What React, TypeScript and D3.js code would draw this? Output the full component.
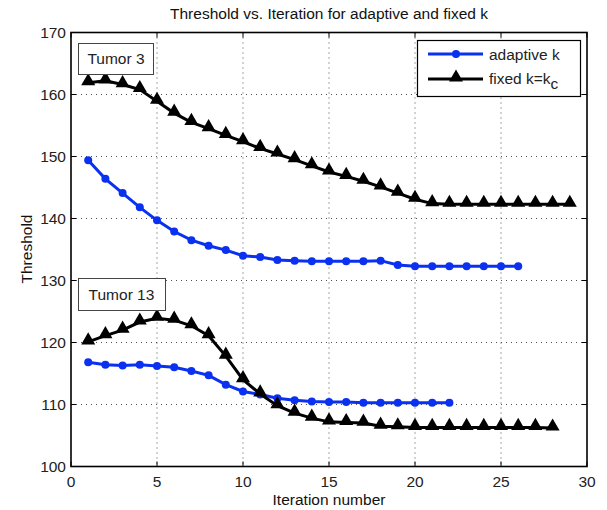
import React from "react";
import * as d3 from "d3";

const t3Adaptive = [149.4, 146.4, 144.1, 141.8, 139.7, 137.9, 136.5, 135.6, 134.9, 134.0, 133.8, 133.3, 133.2, 133.1, 133.1, 133.1, 133.1, 133.2, 132.5, 132.3, 132.3, 132.3, 132.3, 132.3, 132.3, 132.3];
const t3Fixed = [161.9, 162.2, 161.6, 160.8, 158.9, 157.0, 155.5, 154.5, 153.4, 152.4, 151.3, 150.4, 149.5, 148.5, 147.5, 146.8, 146.0, 145.1, 144.1, 143.1, 142.4, 142.3, 142.3, 142.3, 142.3, 142.3, 142.3, 142.3, 142.3];
const t13Adaptive = [116.8, 116.4, 116.3, 116.4, 116.2, 116.0, 115.4, 114.7, 113.2, 112.1, 111.6, 111.0, 110.7, 110.5, 110.4, 110.4, 110.3, 110.3, 110.3, 110.3, 110.3, 110.3];
const t13Fixed = [120.1, 121.1, 122.0, 123.3, 123.9, 123.6, 122.7, 121.1, 117.8, 114.0, 111.7, 109.8, 108.6, 107.8, 107.2, 107.1, 107.0, 106.5, 106.4, 106.3, 106.3, 106.3, 106.3, 106.3, 106.3, 106.3, 106.3, 106.2];
const xTicks = [0, 5, 10, 15, 20, 25, 30];
const yTicks = [100, 110, 120, 130, 140, 150, 160, 170];

const W = 607, H = 510;
const L = 71, R = 587, T = 32.5, B = 466.5;
const FONT = "'Liberation Sans', Arial, Helvetica, sans-serif";
const BLUE = "#0a30f0";
const FS = 15.5;

export default function App() {
  const x = d3.scaleLinear().domain([0, 30]).range([L, R]);
  const y = d3.scaleLinear().domain([100, 170]).range([B, T]);
  const line = d3.line<number>().x((_, i) => x(i + 1)).y((d) => y(d));
  const tri = d3.symbol().type(d3.symbolTriangle).size(85)();

  const blueSeries = [t3Adaptive, t13Adaptive];
  const blackSeries = [t3Fixed, t13Fixed];

  return (
    <svg width={W} height={H} style={{ position: "absolute", left: 0, top: 0, background: "#fff" }} fontFamily={FONT}>
      <rect x={0} y={0} width={W} height={H} fill="#fff" />
      {/* grid */}
      {xTicks.slice(1, -1).map((t) => (
        <line key={"gx" + t} x1={x(t)} x2={x(t)} y1={T} y2={B} stroke="#222" strokeWidth={0.8} strokeDasharray="1,4" />
      ))}
      {yTicks.slice(1, -1).map((t) => (
        <line key={"gy" + t} x1={L} x2={R} y1={y(t)} y2={y(t)} stroke="#222" strokeWidth={0.8} strokeDasharray="1,4" />
      ))}
      {/* ticks */}
      {xTicks.map((t) => (
        <g key={"tx" + t}>
          <line x1={x(t)} x2={x(t)} y1={B} y2={B - 5} stroke="#000" />
          <line x1={x(t)} x2={x(t)} y1={T} y2={T + 5} stroke="#000" />
          <text x={x(t)} y={B + 20.5} textAnchor="middle" fontSize={FS} fill="#222">{t}</text>
        </g>
      ))}
      {yTicks.map((t) => (
        <g key={"ty" + t}>
          <line x1={L} x2={L + 5} y1={y(t)} y2={y(t)} stroke="#000" />
          <line x1={R} x2={R - 5} y1={y(t)} y2={y(t)} stroke="#000" />
          <text x={L - 5} y={y(t) + 5.5} textAnchor="end" fontSize={FS} fill="#222">{t}</text>
        </g>
      ))}
      {/* series */}
      {blueSeries.map((s, k) => (
        <g key={"b" + k}>
          <path d={line(s) || ""} fill="none" stroke={BLUE} strokeWidth={3} />
          {s.map((d, i) => (
            <circle key={i} cx={x(i + 1)} cy={y(d)} r={4} fill={BLUE} />
          ))}
        </g>
      ))}
      {blackSeries.map((s, k) => (
        <g key={"k" + k}>
          <path d={line(s) || ""} fill="none" stroke="#000" strokeWidth={3} />
          {s.map((d, i) => (
            <path key={i} d={tri || ""} transform={`translate(${x(i + 1)},${y(d) - 1.5})`} fill="#000" />
          ))}
        </g>
      ))}
      {/* axes box */}
      <rect x={L} y={T} width={R - L} height={B - T} fill="none" stroke="#000" strokeWidth={1.6} />
      {/* annotations */}
      <rect x={78.5} y={43.5} width={75} height={31} fill="#fff" stroke="#444" strokeWidth={1} />
      <text x={116} y={63.5} textAnchor="middle" fontSize={FS} fill="#222">Tumor 3</text>
      <rect x={78.5} y={278.5} width={87} height={32} fill="#fff" stroke="#444" strokeWidth={1} />
      <text x={121.5} y={300} textAnchor="middle" fontSize={FS} fill="#222">Tumor 13</text>
      {/* legend */}
      <rect x={417.5} y={40.5} width={163} height={56} fill="#fff" stroke="#000" strokeWidth={1.2} />
      <line x1={428} x2={483} y1={54} y2={54} stroke={BLUE} strokeWidth={3} />
      <circle cx={456} cy={54} r={4} fill={BLUE} />
      <text x={489} y={59.5} fontSize={FS} fill="#222">adaptive k</text>
      <line x1={428} x2={483} y1={79} y2={79} stroke="#000" strokeWidth={3} />
      <path d={tri || ""} transform={`translate(456,77.5)`} fill="#000" />
      <text x={489} y={84} fontSize={FS} fill="#222">fixed k=k<tspan dy={5} fontSize={FS}>c</tspan></text>
      {/* titles */}
      <text x={329} y={19} textAnchor="middle" fontSize={FS} fill="#111">Threshold vs. Iteration for adaptive and fixed k</text>
      <text x={329} y={505} textAnchor="middle" fontSize={FS} fill="#111">Iteration number</text>
      <text transform={`translate(32,249) rotate(-90)`} textAnchor="middle" fontSize={FS} fill="#111">Threshold</text>
    </svg>
  );
}
